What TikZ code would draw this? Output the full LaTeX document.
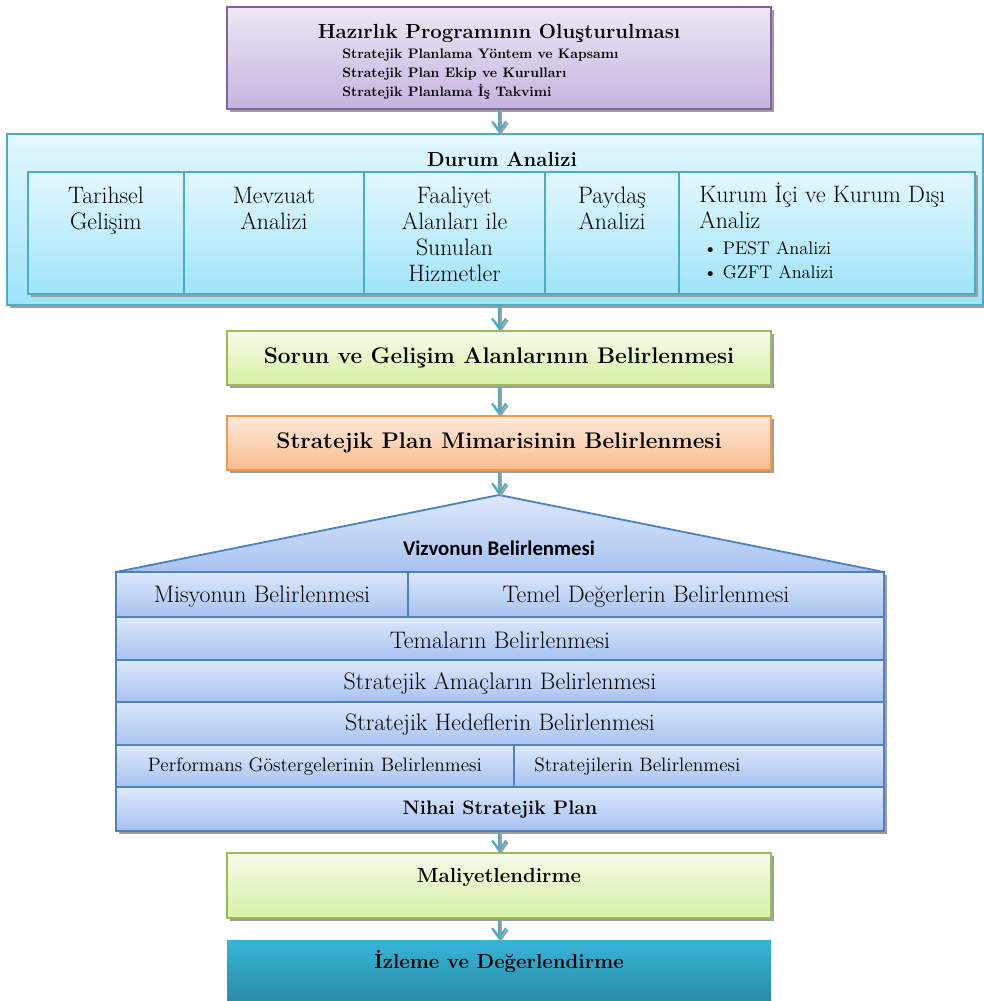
\documentclass[tikz,border=0pt]{standalone}
\usepackage{fontspec}
\usepackage{tikz}
\usetikzlibrary{arrows.meta,shadows,positioning}
\newfontfamily\vizfont{Carlito}
\newcommand{\unitpx}{0.025cm}
\definecolor{lilaline}{HTML}{8064A2}
\definecolor{lilatop}{HTML}{EEE7F6}
\definecolor{lilabot}{HTML}{C6B3DF}
\definecolor{cyanline}{HTML}{4BACC6}
\definecolor{cyantop}{HTML}{E3F8FE}
\definecolor{cyanbot}{HTML}{9FE4FA}
\definecolor{greenline}{HTML}{9BBB59}
\definecolor{greentop}{HTML}{F6FBE9}
\definecolor{greenbot}{HTML}{D6F1A5}
\definecolor{orangeline}{HTML}{F79646}
\definecolor{orangetop}{HTML}{FDEBDD}
\definecolor{orangebot}{HTML}{FBBC8B}
\definecolor{blueline}{HTML}{4F81BD}
\definecolor{bluetop}{HTML}{DDE8FB}
\definecolor{bluebot}{HTML}{A7C2F1}
\definecolor{izltop}{HTML}{36B5D8}
\definecolor{izlbot}{HTML}{2A8BA6}
\definecolor{shadowgray}{HTML}{9E9E9E}
\tikzset{
  box/.style={draw, line width=1.3pt, inner sep=0pt,
    drop shadow={shadow xshift=2pt, shadow yshift=-2pt, fill=shadowgray, opacity=1}},
  lilabox/.style={box, draw=lilaline, top color=lilatop, bottom color=lilabot},
  cyanbox/.style={box, draw=cyanline, top color=cyantop, bottom color=cyanbot},
  greenbox/.style={box, draw=greenline, top color=greentop, bottom color=greenbot},
  orangebox/.style={box, draw=orangeline, top color=orangetop, bottom color=orangebot},
  rowbox/.style={box, draw=blueline, top color=bluetop, bottom color=bluebot},
  bigbold/.style={font=\fontsize{16.1}{19}\selectfont\bfseries},
  midbold/.style={font=\fontsize{14.5}{17}\selectfont\bfseries},
  celltext/.style={anchor=north, inner sep=0pt, align=center, font=\fontsize{16.9}{18.4}\selectfont},
  rowtext/.style={inner sep=0pt, font=\fontsize{17}{19}\selectfont},
  smallrowtext/.style={inner sep=0pt, font=\fontsize{13.8}{16}\selectfont},
  flow/.style={draw=cyanline, line width=1.5pt, -{Straight Barb[length=7pt,width=10pt]}},
  flowshadow/.style={draw=shadowgray, line width=1.5pt, -{Straight Barb[length=7pt,width=10pt]},
    transform canvas={xshift=1.2pt, yshift=-1.2pt}}
}
\begin{document}
\begin{tikzpicture}[x=\unitpx, y=-\unitpx]
  \useasboundingbox (0,0) rectangle (984,1001);
  %\draw[help lines, step=50] (0,0) grid (984,1001);
  % hazirlik
  \node[lilabox, minimum width=544*\unitpx, minimum height=102*\unitpx] (hazir) at (499,58) {};
  \node[midbold, inner sep=0pt] (hazirT) at (499,33) {Hazırlık Programının Oluşturulması};
  \node[anchor=west, inner sep=0pt, align=left, font=\fontsize{9.8}{13.4}\selectfont\bfseries] (hazirL) at (342,74)
    {Stratejik Planlama Yöntem ve Kapsamı\\Stratejik Plan Ekip ve Kurulları\\Stratejik Planlama İş Takvimi};
  % durum analizi
  \node[cyanbox, minimum width=976*\unitpx, minimum height=171*\unitpx] (durum) at (495,219.5) {};
  \node[midbold, inner sep=0pt] (durumT) at (502,159) {Durum Analizi};
  \foreach \n/\cx/\w in {tarih/106/156, mevzuat/274/180, faaliyet/454.5/181, paydas/612/134, kurum/827/296}
    \node[cyanbox, minimum width=\w*\unitpx, minimum height=122*\unitpx] (\n) at (\cx,233) {};
  \node[celltext] (tarihT) at (106,187) {Tarihsel\\Gelişim};
  \node[celltext] (mevzuatT) at (274,187) {Mevzuat\\Analizi};
  \node[celltext] (faaliyetT) at (454.5,187) {Faaliyet\\Alanları ile\\Sunulan\\Hizmetler};
  \node[celltext] (paydasT) at (612,187) {Paydaş\\Analizi};
  \node[celltext, anchor=north west, align=left] (kurumT) at (699,183) {Kurum İçi ve Kurum Dışı\\Analiz};
  \node[anchor=north west, inner sep=0pt, align=left, font=\fontsize{13}{17}\selectfont] (kurumB) at (703,241)
    {\textbullet\hspace{4pt}PEST Analizi\\\textbullet\hspace{4pt}GZFT Analizi};
  % sorun ve mimari
  \node[greenbox, minimum width=544*\unitpx, minimum height=54*\unitpx, bigbold] (sorun) at (499,358)
    {Sorun ve Gelişim Alanlarının Belirlenmesi};
  \node[orangebox, minimum width=544*\unitpx, minimum height=54*\unitpx, bigbold] (mimari) at (499,443)
    {Stratejik Plan Mimarisinin Belirlenmesi};
  % cati
  \coordinate (apex) at (499,495);
  \path[draw=blueline, line width=1.3pt, top color=bluetop, bottom color=bluebot]
    (116,572) -- (apex) -- (884,572) -- cycle;
  \node[inner sep=0pt, font=\vizfont\fontsize{14.8}{17}\selectfont\bfseries] (vizyon) at (499,548) {Vizvonun Belirlenmesi};
  \node[rowbox, minimum width=292*\unitpx, minimum height=45*\unitpx] (misyon) at (262,594.5) {};
  \node[rowbox, minimum width=476*\unitpx, minimum height=45*\unitpx] (temel) at (646,594.5) {};
  \node[rowbox, minimum width=768*\unitpx, minimum height=43*\unitpx] (tema) at (500,638.5) {};
  \node[rowbox, minimum width=768*\unitpx, minimum height=42*\unitpx] (amac) at (500,681) {};
  \node[rowbox, minimum width=768*\unitpx, minimum height=43*\unitpx] (hedef) at (500,723.5) {};
  \node[rowbox, minimum width=398*\unitpx, minimum height=42*\unitpx] (perf) at (315,766) {};
  \node[rowbox, minimum width=370*\unitpx, minimum height=42*\unitpx] (strat) at (699,766) {};
  \node[rowbox, minimum width=768*\unitpx, minimum height=44*\unitpx] (nihai) at (500,809) {};
  \node[rowtext] (misyonT) at (262,597) {Misyonun Belirlenmesi};
  \node[rowtext] (temelT) at (646,597) {Temel Değerlerin Belirlenmesi};
  \node[rowtext] (temaT) at (500,640) {Temaların Belirlenmesi};
  \node[rowtext] (amacT) at (500,683) {Stratejik Amaçların Belirlenmesi};
  \node[rowtext] (hedefT) at (500,725) {Stratejik Hedeflerin Belirlenmesi};
  \node[smallrowtext] (perfT) at (315,767) {Performans Göstergelerinin Belirlenmesi};
  \node[smallrowtext, anchor=west] (stratT) at (534,767) {Stratejilerin Belirlenmesi};
  \node[smallrowtext, font=\fontsize{13.9}{16}\selectfont\bfseries] (nihaiT) at (500,810) {Nihai Stratejik Plan};
  % maliyet ve izleme
  \node[greenbox, minimum width=544*\unitpx, minimum height=65*\unitpx] (maliyet) at (499,885.5) {};
  \node[midbold, inner sep=0pt] (maliyetT) at (499,877) {Maliyetlendirme};
  \node[inner sep=0pt, top color=izltop, bottom color=izlbot, minimum width=544*\unitpx, minimum height=61*\unitpx] (izleme) at (499,970.5) {};
  \node[midbold, inner sep=0pt] (izlemeT) at (499,962) {İzleme ve Değerlendirme};
  % oklar
  \foreach \a/\b in {hazir/durum, durum/sorun, sorun/mimari, nihai/maliyet, maliyet/izleme} {
    \draw[flowshadow] (hazir.south |- \a.south) -- (hazir.south |- \b.north);
    \draw[flow] (hazir.south |- \a.south) -- (hazir.south |- \b.north);
  }
  \draw[flowshadow] (mimari.south) -- (apex);
  \draw[flow] (mimari.south) -- (apex);
\end{tikzpicture}
\end{document}
